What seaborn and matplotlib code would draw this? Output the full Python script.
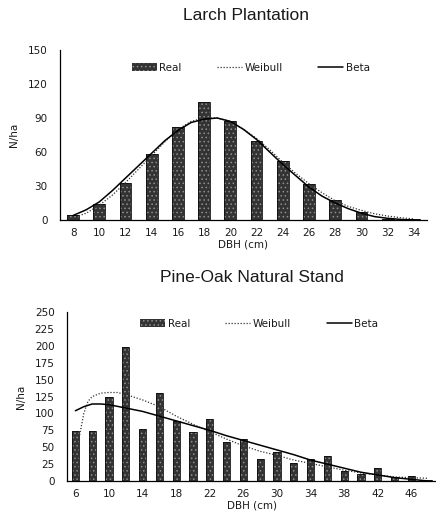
import matplotlib
matplotlib.use("Agg")
import matplotlib.pyplot as plt
from matplotlib.patches import Patch, Rectangle
from matplotlib.lines import Line2D
from matplotlib.ticker import FixedLocator
import seaborn as sns
import pandas as pd

# ---- Larch plantation: diameter classes and stem counts (N/ha) ----
larch_dbh = [8, 10, 12, 14, 16, 18, 20, 22, 24, 26, 28, 30, 32, 34]
larch_real = [4, 14, 33, 58, 82, 104, 87, 70, 52, 32, 18, 7, 1, 1]

larch_curve_dbh = [8, 9, 10, 11, 12, 13, 14, 15, 16, 17, 18, 19, 20, 21,
                   22, 23, 24, 25, 26, 27, 28, 29, 30, 31, 32, 33, 34]
larch_weibull = [2, 6, 13, 22, 33, 45, 57, 69, 80, 87, 90, 90, 87, 80,
                 72, 62, 51, 41, 32, 24, 17, 12, 8.5, 5.5, 3.5, 2, 1]
larch_beta = [4, 9, 16, 26, 37, 48, 59, 70, 79, 86, 89, 90, 87, 80,
              71, 60, 49, 39, 29, 21, 15, 10, 6, 3, 1.5, 0.5, 0]

# ---- Pine-oak natural stand ----
pine_dbh = [6, 8, 10, 12, 14, 16, 18, 20, 22, 24, 26, 28, 30, 32, 34, 36,
            38, 40, 42, 44, 46, 48]
pine_real = [74, 74, 124, 199, 77, 130, 89, 72, 92, 58, 62, 33, 43, 26, 32,
             37, 15, 10, 19, 6, 7, 1]

pine_weibull_dbh = [6.3, 7, 7.5, 8, 9, 10, 11, 12, 14, 16, 18, 20, 22, 24,
                    26, 28, 30, 32, 34, 36, 38, 40, 42, 44, 46, 48]
pine_weibull = [55, 100, 118, 125, 130, 131, 131, 128, 120, 110, 96, 84, 73,
                62, 52, 44, 38, 31, 26, 21, 16, 12, 9, 6, 5, 4]
pine_beta_dbh = [6, 7, 8, 9, 10, 12, 14, 16, 18, 20, 22, 24, 26, 28, 30, 32,
                 34, 36, 38, 40, 42, 44, 46, 48]
pine_beta = [104, 110, 114, 114, 113, 108, 103, 96, 89, 82, 75, 67, 60, 53,
             46, 39, 31, 25, 19, 13, 9, 5, 2.5, 0]

BAR_FACE = "#333333"
BAR_SPECK = "#8f8f8f"
BAR_EDGE = "#0d0d0d"
TXT = "#1a1a1a"
DOT = (0, (1, 1.4))


def outline_bars(ax):
    # stippled fill is drawn with light hatching; add a dark outline on top
    for p in list(ax.patches):
        ax.add_patch(Rectangle(p.get_xy(), p.get_width(), p.get_height(),
                               fill=False, edgecolor=BAR_EDGE, linewidth=0.6,
                               zorder=p.get_zorder() + 0.1))


def draw_panel(ax, dbh, real, w_x, w_y, b_x, b_y, ymax, ystep, label_every,
               bar_width, legend_y):
    df = pd.DataFrame({"DBH": [str(d) for d in dbh], "N": real})
    sns.barplot(data=df, x="DBH", y="N", order=[str(d) for d in dbh],
                color=BAR_FACE, edgecolor=BAR_SPECK, linewidth=0,
                width=bar_width, saturation=1, hatch="....", ax=ax)
    outline_bars(ax)
    # continuous curves placed on the categorical axis
    d0, step = dbh[0], dbh[1] - dbh[0]
    ax.plot([(v - d0) / step for v in w_x], w_y, ls=DOT,
            lw=0.9, color="#333333", zorder=5)
    ax.plot([(v - d0) / step for v in b_x], b_y, ls="-", lw=1.1,
            color="black", zorder=5)

    n = len(dbh)
    ax.set_xlim(-0.5, n - 0.5)
    ax.set_ylim(0, ymax)
    ax.set_yticks(range(0, ymax + 1, ystep))
    ax.set_xticks(range(0, n, label_every))
    ax.set_xticklabels([str(d) for d in dbh[::label_every]])
    ax.xaxis.set_minor_locator(FixedLocator([i + 0.5 for i in range(-1, n)]))
    ax.tick_params(axis="x", which="major", length=0, pad=6,
                   labelsize=7.5, labelcolor=TXT)
    ax.tick_params(axis="x", which="minor", direction="in", length=3,
                   width=0.8)
    ax.tick_params(axis="y", direction="in", length=2.5, width=0.8,
                   pad=9, labelsize=7.5, labelcolor=TXT)
    for s in ("top", "right"):
        ax.spines[s].set_visible(False)
    for s in ("left", "bottom"):
        ax.spines[s].set_linewidth(0.9)
        ax.spines[s].set_color("black")
    ax.set_xlabel("DBH (cm)", fontsize=7.5, color=TXT, labelpad=1)
    ax.set_ylabel("N/ha", fontsize=7.5, color=TXT, labelpad=6)

    handles = [
        Patch(facecolor=BAR_FACE, edgecolor=BAR_SPECK, linewidth=0,
              hatch="...."),
        Line2D([], [], ls=DOT, lw=0.9, color="#333333"),
        Line2D([], [], ls="-", lw=1.1, color="black"),
    ]
    ax.legend(handles, ["Real", "Weibull", "Beta"], ncol=3, frameon=False,
              loc="center", bbox_to_anchor=(0.52, legend_y), fontsize=7.5,
              handlelength=2.4, handleheight=0.8, handletextpad=0.25,
              columnspacing=3.4, labelcolor=TXT)


sns.set_theme(style="white")
plt.rcParams["font.family"] = ["DejaVu Sans"]
plt.rcParams["hatch.linewidth"] = 0.6

fig = plt.figure(figsize=(4.36, 5.15), dpi=100)
ax1 = fig.add_axes([0.1376, 0.5728, 0.8417, 0.3301])
ax2 = fig.add_axes([0.1537, 0.066, 0.8475, 0.328])

draw_panel(ax1, larch_dbh, larch_real, larch_curve_dbh, larch_weibull,
           larch_curve_dbh, larch_beta, 150, 30, 1, 0.45, 0.895)
draw_panel(ax2, pine_dbh, pine_real, pine_weibull_dbh, pine_weibull,
           pine_beta_dbh, pine_beta, 250, 25, 2, 0.43, 0.93)

fig.text(246 / 436, 1 - 15 / 515, "Larch Plantation", ha="center",
         va="center", fontsize=12.5, family="Liberation Sans", color=TXT)
fig.text(252 / 436, 1 - 277 / 515, "Pine-Oak Natural Stand", ha="center",
         va="center", fontsize=12.5, family="Liberation Sans", color=TXT)

fig.savefig("out.png", dpi=100, facecolor="white")
